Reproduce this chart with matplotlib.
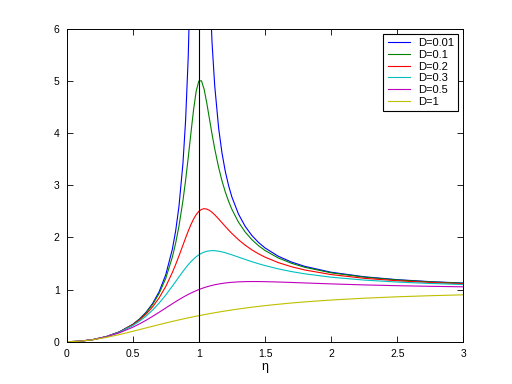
import matplotlib
matplotlib.use("Agg")
import matplotlib.pyplot as plt

# eta values the curves were read at
eta = [0, 0.1, 0.2, 0.3, 0.4, 0.5, 0.55, 0.6, 0.65, 0.7, 0.75, 0.8, 0.825,
       0.85, 0.88, 0.9, 0.92, 0.94, 0.96, 0.98, 1.0, 1.02, 1.04, 1.06, 1.08,
       1.1, 1.12, 1.15, 1.175, 1.2, 1.225, 1.25, 1.3, 1.35, 1.4, 1.45, 1.5,
       1.6, 1.7, 1.8, 2.0, 2.25, 2.5, 2.75, 3.0]

v_d001 = [0, 0.0101, 0.0417, 0.0989, 0.1905, 0.3333, 0.4336, 0.5624, 0.7314,
          0.9604, 1.2850, 1.7760, 2.1283, 2.5987, 3.4223, 4.2442, 5.4713,
          7.4939, 11.418, 21.736, 50.0, 22.988, 12.844, 8.960, 6.9511, 5.7305,
          4.9119, 4.0903, 3.6204, 3.2678, 2.9940, 2.7750, 2.4475, 2.2146,
          2.0408, 1.9064, 1.7995, 1.6407, 1.5289, 1.4462, 1.3332, 1.2461,
          1.1904, 1.1523, 1.1249]
v_d01 = [0, 0.0101, 0.0416, 0.0987, 0.1896, 0.3304, 0.4284, 0.5528, 0.7137,
         0.9265, 1.2162, 1.6246, 1.8934, 2.2201, 2.7064, 3.0948, 3.5314,
         3.9960, 4.4438, 4.8029, 5.0, 5.0029, 4.8409, 4.5787, 4.2779, 3.9784,
         3.7007, 3.3386, 3.0864, 2.8731, 2.6924, 2.5383, 2.2920, 2.1053,
         1.9600, 1.8443, 1.7503, 1.6076, 1.5050, 1.4281, 1.3216, 1.2386,
         1.1851, 1.1484, 1.1219]
v_d02 = [0, 0.0101, 0.0415, 0.0981, 0.1871, 0.3221, 0.4136, 0.5267, 0.6671,
         0.8422, 1.0604, 1.3287, 1.4821, 1.6463, 1.8522, 1.9899, 2.1225,
         2.2449, 2.3515, 2.4376, 2.5, 2.5376, 2.5514, 2.5441, 2.5196, 2.4818,
         2.4348, 2.3541, 2.2828, 2.2114, 2.1422, 2.0761, 1.9560, 1.8523,
         1.7635, 1.6877, 1.6227, 1.5182, 1.4388, 1.3770, 1.2883, 1.2167,
         1.1695, 1.1365, 1.1125]
v_d03 = [0, 0.0101, 0.0413, 0.0970, 0.1832, 0.3095, 0.3920, 0.4903, 0.6063,
         0.7416, 0.8962, 1.0667, 1.1554, 1.2444, 1.3487, 1.4150, 1.4772,
         1.5343, 1.5854, 1.6296, 1.6667, 1.6963, 1.7187, 1.7342, 1.7434,
         1.7470, 1.7458, 1.7364, 1.7232, 1.7066, 1.6874, 1.6667, 1.6228,
         1.5788, 1.5365, 1.4970, 1.4608, 1.3976, 1.3456, 1.3029, 1.2380,
         1.1826, 1.1447, 1.1176, 1.0976]
v_d05 = [0, 0.0100, 0.0408, 0.0939, 0.1720, 0.2774, 0.3406, 0.4104, 0.4859,
         0.5658, 0.6478, 0.7295, 0.7694, 0.8080, 0.8524, 0.8806, 0.9074,
         0.9329, 0.9568, 0.9792, 1.0, 1.0192, 1.0368, 1.0529, 1.0674, 1.0805,
         1.0922, 1.1073, 1.1178, 1.1267, 1.1340, 1.1399, 1.1483, 1.1529,
         1.1546, 1.1542, 1.1523, 1.1456, 1.1369, 1.1275, 1.1094, 1.0901,
         1.0748, 1.0629, 1.0534]
v_d1 = [0, 0.0099, 0.0385, 0.0826, 0.1379, 0.2, 0.2322, 0.2647, 0.2970,
        0.3289, 0.36, 0.3902, 0.4050, 0.4194, 0.4364, 0.4475, 0.4584, 0.4691,
        0.4796, 0.4899, 0.5, 0.5099, 0.5196, 0.5291, 0.5384, 0.5475, 0.5564,
        0.5694, 0.5799, 0.5902, 0.6001, 0.6098, 0.6283, 0.6457, 0.6622,
        0.6777, 0.6923, 0.7191, 0.7429, 0.7642, 0.8, 0.8351, 0.8621, 0.8832,
        0.9]

labels = ["D=0.01", "D=0.1", "D=0.2", "D=0.3", "D=0.5", "D=1"]
colors = ["#0000ff", "#008000", "#ff0000", "#00bfbf", "#bf00bf", "#bfbf00"]


def plot_resonance():
    plt.rcParams['font.family'] = ['Liberation Sans', 'DejaVu Sans']
    fig = plt.figure(figsize=(5.12, 3.84), dpi=100)
    ax = fig.add_axes([0.13, 0.11, 0.775, 0.815])

    for vals, label, c in zip([v_d001, v_d01, v_d02, v_d03, v_d05, v_d1],
                              labels, colors):
        ax.plot(eta, vals, color=c, lw=0.8, label=label)

    # resonance marker
    ax.axvline(1, color='k', lw=0.8)

    ax.set_xlim(0, 3)
    ax.set_ylim(0, 6)
    ax.set_xticks([0, 0.5, 1, 1.5, 2, 2.5, 3])
    ax.set_xticklabels(["0", "0.5", "1", "1.5", "2", "2.5", "3"])
    ax.set_yticks(range(7))
    ax.tick_params(direction='in', top=True, right=True, length=4.5,
                   width=0.6, labelsize=7.5, pad=5)
    for s in ax.spines.values():
        s.set_linewidth(0.7)
    ax.set_xlabel("η", fontsize=9, labelpad=2)

    leg = ax.legend(loc='upper right', fontsize=8, fancybox=False,
                    edgecolor='k', framealpha=1, handlelength=2.0,
                    borderpad=0.4, labelspacing=0.15, borderaxespad=0.45,
                    handletextpad=0.7)
    leg.get_frame().set_linewidth(0.8)

    fig.savefig("out.png", dpi=100)


def main():
    plot_resonance()


if __name__ == '__main__':
    main()
